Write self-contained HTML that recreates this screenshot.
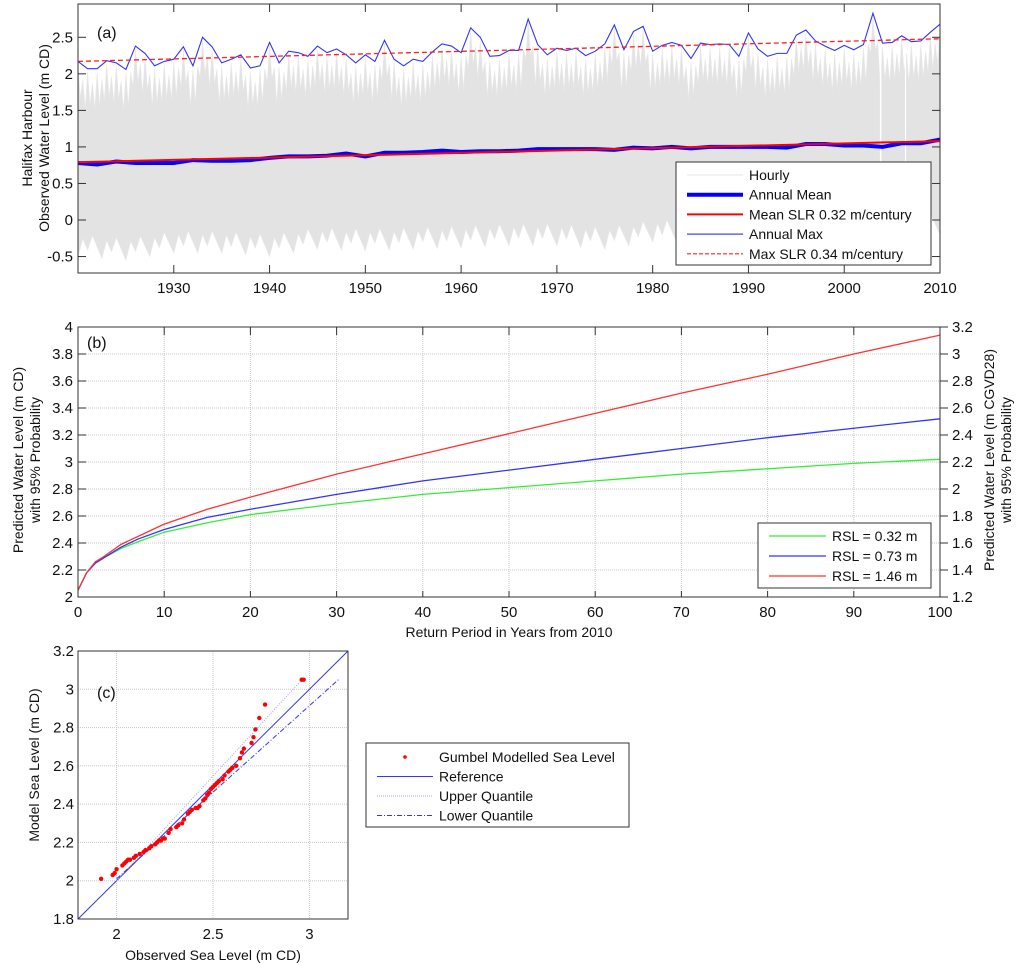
<!DOCTYPE html>
<html><head><meta charset="utf-8"><style>
html,body{margin:0;padding:0;background:#fff;}
svg{display:block;font-family:"Liberation Sans",Arial,sans-serif;}
</style></head><body>
<svg id="fig" width="1024" height="965" viewBox="0 0 1024 965" xmlns="http://www.w3.org/2000/svg">
<g id="pa"></g>
<g id="pb"></g>
<g id="pc"></g>
</svg>
<script>
// ---------- Panel (a) data ----------
const yearsStart = 1920;
const annualMax = [2.17,2.07,2.07,2.18,2.15,2.06,2.38,2.28,2.11,2.17,2.20,2.37,2.11,2.50,2.37,2.15,2.20,2.26,2.08,2.11,2.43,2.15,2.31,2.29,2.24,2.38,2.29,2.34,2.26,2.15,2.26,2.17,2.46,2.20,2.11,2.20,2.17,2.30,2.41,2.38,2.29,2.63,2.50,2.24,2.25,2.32,2.32,2.75,2.40,2.26,2.35,2.32,2.35,2.25,2.31,2.41,2.67,2.33,2.58,2.65,2.31,2.39,2.43,2.39,2.21,2.42,2.40,2.41,2.40,2.24,2.56,2.34,2.24,2.28,2.28,2.53,2.60,2.45,2.38,2.32,2.39,2.33,2.40,2.83,2.42,2.43,2.52,2.44,2.45,2.57,2.68];
const meanYears = [1920,1922,1924,1926,1928,1930,1932,1934,1936,1938,1940,1942,1944,1946,1948,1950,1952,1954,1956,1958,1960,1962,1964,1966,1968,1970,1972,1974,1976,1978,1980,1982,1984,1986,1988,1990,1992,1994,1996,1998,2000,2002,2004,2006,2008,2010];
const annualMean = [0.78,0.76,0.80,0.78,0.78,0.78,0.82,0.81,0.81,0.82,0.85,0.87,0.87,0.88,0.91,0.87,0.92,0.92,0.93,0.95,0.93,0.94,0.94,0.95,0.97,0.97,0.97,0.97,0.96,0.99,0.98,1.00,0.98,1.00,1.00,1.00,1.00,0.99,1.04,1.04,1.02,1.02,1.00,1.05,1.05,1.10];
const hourlyLowYears = [1920,1925,1930,1935,1940,1945,1950,1955,1960,1965,1970,1975,1980,1985,1990,1995,2000,2005,2010];
const hourlyLow = [-0.50,-0.55,-0.45,-0.45,-0.50,-0.40,-0.42,-0.40,-0.38,-0.35,-0.35,-0.40,-0.30,-0.30,-0.30,-0.28,-0.25,-0.25,-0.20];
const meanTrend = [0.79,1.08];
const maxTrend = [2.17,2.48];
const aYTicks = [-0.5,0,0.5,1,1.5,2,2.5];
const aXTicks = [1930,1940,1950,1960,1970,1980,1990,2000,2010];

// ---------- Panel (b) data ----------
const returnYears = [0,1,2,3,5,7,10,15,20,30,40,50,60,70,80,90,100];
const rsl032 = [2.05,2.18,2.25,2.29,2.36,2.41,2.48,2.55,2.61,2.69,2.76,2.81,2.86,2.91,2.95,2.99,3.02];
const rsl073 = [2.05,2.18,2.25,2.29,2.37,2.43,2.50,2.59,2.65,2.76,2.86,2.94,3.02,3.10,3.18,3.25,3.32];
const rsl146 = [2.05,2.18,2.26,2.30,2.39,2.45,2.54,2.65,2.74,2.91,3.06,3.21,3.36,3.51,3.65,3.80,3.94];
const bYTicks = [2,2.2,2.4,2.6,2.8,3,3.2,3.4,3.6,3.8,4];
const bYTicksRight = [1.2,1.4,1.6,1.8,2,2.2,2.4,2.6,2.8,3,3.2];
const bXTicks = [0,10,20,30,40,50,60,70,80,90,100];

// ---------- Panel (c) data ----------
const obsLevel = [1.92,1.98,1.99,2.00,2.03,2.04,2.05,2.06,2.07,2.09,2.10,2.12,2.14,2.15,2.17,2.18,2.20,2.21,2.22,2.23,2.24,2.25,2.27,2.28,2.31,2.32,2.34,2.35,2.37,2.38,2.39,2.41,2.42,2.43,2.45,2.46,2.47,2.48,2.49,2.50,2.51,2.52,2.53,2.55,2.56,2.58,2.59,2.60,2.62,2.64,2.65,2.66,2.70,2.71,2.72,2.74,2.77,2.96,2.97];
const modelLevel = [2.01,2.03,2.04,2.06,2.08,2.09,2.10,2.11,2.11,2.12,2.13,2.14,2.15,2.16,2.17,2.18,2.19,2.20,2.21,2.21,2.22,2.22,2.25,2.27,2.28,2.29,2.30,2.32,2.35,2.36,2.37,2.38,2.38,2.39,2.42,2.43,2.45,2.46,2.48,2.49,2.50,2.51,2.52,2.53,2.55,2.57,2.58,2.59,2.60,2.64,2.67,2.69,2.72,2.75,2.79,2.85,2.92,3.05,3.05];
const upperQ = [[2.0,2.0],[2.97,3.06]];
const lowerQ = [[2.0,2.01],[3.15,3.05]];
const cXTicks = [2,2.5,3];
const cYTicks = [1.8,2,2.2,2.4,2.6,2.8,3,3.2];

const NS = "http://www.w3.org/2000/svg";
function mk(parent, tag, attrs, text){
  const e = document.createElementNS(NS, tag);
  for (const k in attrs) e.setAttribute(k, attrs[k]);
  if (text !== undefined) e.textContent = text;
  parent.appendChild(e);
  return e;
}
function lin(d0,d1,r0,r1){ return v => r0 + (v-d0)*(r1-r0)/(d1-d0); }
function pathFrom(xs, ys, fx, fy){ return xs.map((x,i)=>(i?'L':'M')+fx(x).toFixed(2)+','+fy(ys[i]).toFixed(2)).join(''); }
function interp(xs, ys, x){
  for (let i=0;i<xs.length-1;i++) if (x>=xs[i] && x<=xs[i+1]) return ys[i]+(ys[i+1]-ys[i])*(x-xs[i])/(xs[i+1]-xs[i]);
  return ys[ys.length-1];
}

// ================= Panel A =================
(function(){
  const g = document.getElementById('pa');
  const L=78,R=940,T=4,B=273;
  const x = lin(1920,2010,L,R), y = lin(0,2.5,220,37.3);
  const yrs = annualMax.map((_,i)=>yearsStart+i);
  let top = [];
  for (let i=0;i<yrs.length;i++){
    top.push([x(yrs[i]), y(annualMax[i]-0.05)]);
    if (i<yrs.length-1){
      top.push([x(yrs[i]+0.25), y(annualMax[i]-0.5)]);
      top.push([x(yrs[i]+0.5), y((annualMax[i]+annualMax[i+1])/2-0.2)]);
      top.push([x(yrs[i]+0.75), y(annualMax[i+1]-0.55)]);
    }
  }
  let bot = [];
  for (let v=2010; v>=1920; v-=0.5){
    const base = interp(hourlyLowYears, hourlyLow, v);
    const k = Math.round((v-1920)*2)%5;
    const off = [0,0.25,0.1,0.3,0.15][k];
    bot.push([x(v), y(base + off)]);
  }
  const pts = top.concat(bot).map(p=>p[0].toFixed(1)+','+p[1].toFixed(1)).join(' ');
  const hourly = mk(g,'polygon',{points:pts, fill:'#e3e3e3', stroke:'#e8e8e8','stroke-width':0.6});
  
  
  mk(g,'line',{x1:x(2003.8),x2:x(2003.8),y1:y(2.3),y2:y(-0.2),stroke:'#fff','stroke-width':1.5});
  mk(g,'line',{x1:x(2006.4),x2:x(2006.4),y1:y(2.3),y2:y(-0.2),stroke:'#fff','stroke-width':1.2});
  const mp = mk(g,'path',{d:pathFrom(meanYears,annualMean,x,y),fill:'none',stroke:'#0000ff','stroke-width':4});
  
  
  const mt = mk(g,'line',{x1:x(1920),y1:y(meanTrend[0]),x2:x(2010),y2:y(meanTrend[1]),stroke:'#ff0000','stroke-width':2});
  
  
  const ap = mk(g,'path',{d:pathFrom(yrs,annualMax,x,y),fill:'none',stroke:'#3333ff','stroke-width':1.1});
  
  
  const xt = mk(g,'line',{x1:x(1920),y1:y(maxTrend[0]),x2:x(2010),y2:y(maxTrend[1]),stroke:'#ff2020','stroke-width':1.3,'stroke-dasharray':'5,3'});
  
  
  mk(g,'rect',{x:L,y:T,width:R-L,height:B-T,fill:'none',stroke:'#333','stroke-width':1});
  aYTicks.forEach(v=>{
    mk(g,'line',{x1:L,x2:L+8,y1:y(v),y2:y(v),stroke:'#333'});
    mk(g,'line',{x1:R,x2:R-8,y1:y(v),y2:y(v),stroke:'#333'});
    const t = mk(g,'text',{x:L-5,y:y(v)+5,'text-anchor':'end','font-size':15,fill:'#111'},String(v));
    
    
  });
  aXTicks.forEach(v=>{
    mk(g,'line',{x1:x(v),x2:x(v),y1:B,y2:B-8,stroke:'#333'});
    mk(g,'line',{x1:x(v),x2:x(v),y1:T,y2:T+8,stroke:'#333'});
    const t = mk(g,'text',{x:x(v),y:293,'text-anchor':'middle','font-size':15,fill:'#111'},String(v));
    
    
  });
  const pl = mk(g,'text',{x:97,y:38,'font-size':16,fill:'#111'},'(a)');
  
  
  const yl = mk(g,'text',{transform:'translate(40,138) rotate(-90)','text-anchor':'middle','font-size':14,fill:'#111'});
  
  
  mk(yl,'tspan',{x:0,dy:-8},'Halifax Harbour');
  mk(yl,'tspan',{x:0,dy:17},'Observed Water Level (m CD)');
  const lg = mk(g,'g',{});
  
  
  mk(lg,'rect',{x:676,y:162,width:255,height:103,fill:'#fff',stroke:'#333'});
  const items = [['Hourly','#e6e6e6',1,''],['Annual Mean','#0000ff',4,''],['Mean SLR 0.32 m/century','#ff0000',2,''],['Annual Max','#4444ff',1.2,''],['Max SLR 0.34 m/century','#ff2020',1.2,'4,2']];
  items.forEach((it,i)=>{
    const yy = 175+i*19.7;
    const e = mk(lg,'g',{});
    
    
    mk(e,'line',{x1:687,x2:743,y1:yy,y2:yy,stroke:it[1],'stroke-width':it[2],'stroke-dasharray':it[3]||'none'});
    mk(e,'text',{x:749,y:yy+5,'font-size':14,fill:'#111'},it[0]);
  });
})();

// ================= Panel B =================
(function(){
  const g = document.getElementById('pb');
  const L=78,R=940,T=327,B=597;
  const x = lin(0,100,L,R), y = lin(2,4,B,T);
  bXTicks.forEach(v=>{ if(v>0&&v<100) mk(g,'line',{x1:x(v),x2:x(v),y1:T,y2:B,stroke:'#c8c8c8','stroke-dasharray':'1,1'}); });
  bYTicks.forEach(v=>{ if(v>2&&v<4) mk(g,'line',{x1:L,x2:R,y1:y(v),y2:y(v),stroke:'#c8c8c8','stroke-dasharray':'1,1'}); });
  const series = [[rsl032,'#33ee33','rsl-032-line'],[rsl073,'#3333ff','rsl-073-line'],[rsl146,'#ff3333','rsl-146-line']];
  series.forEach(s=>{
    const p = mk(g,'path',{d:pathFrom(returnYears,s[0],x,y),fill:'none',stroke:s[1],'stroke-width':1.3});
    
    
  });
  mk(g,'rect',{x:L,y:T,width:R-L,height:B-T,fill:'none',stroke:'#333'});
  bYTicks.forEach(v=>{
    mk(g,'line',{x1:L,x2:L+8,y1:y(v),y2:y(v),stroke:'#333'});
    const t = mk(g,'text',{x:L-5,y:y(v)+5,'text-anchor':'end','font-size':15,fill:'#111'},String(v));
    
    
  });
  const yr = lin(1.2,3.2,B,T);
  bYTicksRight.forEach(v=>{
    mk(g,'line',{x1:R,x2:R+8,y1:yr(v),y2:yr(v),stroke:'#333'});
    const t = mk(g,'text',{x:R+12,y:yr(v)+5,'text-anchor':'start','font-size':15,fill:'#111'},String(v));
    
    
  });
  bXTicks.forEach(v=>{
    mk(g,'line',{x1:x(v),x2:x(v),y1:T,y2:T+8,stroke:'#333'});
    mk(g,'line',{x1:x(v),x2:x(v),y1:B,y2:B-6,stroke:'#333'});
    const t = mk(g,'text',{x:x(v),y:617,'text-anchor':'middle','font-size':15,fill:'#111'},String(v));
    
    
  });
  const pl = mk(g,'text',{x:87,y:348,'font-size':16,fill:'#111'},'(b)');
  
  
  const xl = mk(g,'text',{x:509,y:637,'text-anchor':'middle','font-size':14,fill:'#111'},'Return Period in Years from 2010');
  
  
  const yl = mk(g,'text',{transform:'translate(23,460) rotate(-90)','text-anchor':'middle','font-size':14,fill:'#111'});
  
  
  mk(yl,'tspan',{x:0,dy:0},'Predicted Water Level (m CD)');
  mk(yl,'tspan',{x:0,dy:17},'with 95% Probability');
  const yl2 = mk(g,'text',{transform:'translate(994,460) rotate(-90)','text-anchor':'middle','font-size':14,fill:'#111'});
  
  
  mk(yl2,'tspan',{x:0,dy:0},'Predicted Water Level (m CGVD28)');
  mk(yl2,'tspan',{x:0,dy:17},'with 95% Probability');
  const lg = mk(g,'g',{});
  
  
  mk(lg,'rect',{x:758,y:523,width:173,height:65,fill:'#fff',stroke:'#333'});
  [['RSL = 0.32 m','#33ee33'],['RSL = 0.73 m','#3333ff'],['RSL = 1.46 m','#ff3333']].forEach((it,i)=>{
    const yy = 536+i*20;
    const e = mk(lg,'g',{});
    
    
    mk(e,'line',{x1:769,x2:826,y1:yy,y2:yy,stroke:it[1],'stroke-width':1.3});
    mk(e,'text',{x:832,y:yy+5,'font-size':14,fill:'#111'},it[0]);
  });
})();

// ================= Panel C =================
(function(){
  const g = document.getElementById('pc');
  const L=78,R=348,T=651,B=919;
  const x = lin(1.8,3.2,L,R), y = lin(1.8,3.2,B,T);
  cXTicks.forEach(v=>mk(g,'line',{x1:x(v),x2:x(v),y1:T,y2:B,stroke:'#c8c8c8','stroke-dasharray':'1,1'}));
  cYTicks.forEach(v=>{ if(v>1.8&&v<3.2) mk(g,'line',{x1:L,x2:R,y1:y(v),y2:y(v),stroke:'#c8c8c8','stroke-dasharray':'1,1'}); });
  const ref = mk(g,'line',{x1:x(1.8),y1:y(1.8),x2:x(3.2),y2:y(3.2),stroke:'#3333ff','stroke-width':1});
  
  
  const uq = mk(g,'line',{x1:x(upperQ[0][0]),y1:y(upperQ[0][1]),x2:x(upperQ[1][0]),y2:y(upperQ[1][1]),stroke:'#a0a0ff','stroke-width':1,'stroke-dasharray':'1,1.5'});
  
  
  const lq = mk(g,'line',{x1:x(lowerQ[0][0]),y1:y(lowerQ[0][1]),x2:x(lowerQ[1][0]),y2:y(lowerQ[1][1]),stroke:'#3333ff','stroke-width':1,'stroke-dasharray':'5,2,1,2'});
  
  
  obsLevel.forEach((v,i)=>{
    const c = mk(g,'circle',{cx:x(v),cy:y(modelLevel[i]),r:2.2,fill:'#ff0000'});
    
    
  });
  mk(g,'rect',{x:L,y:T,width:R-L,height:B-T,fill:'none',stroke:'#333'});
  cYTicks.forEach(v=>{
    const t = mk(g,'text',{x:L-4,y:y(v)+5,'text-anchor':'end','font-size':15,fill:'#111'},v.toFixed(1).replace(/\.0$/,''));
    
    
  });
  cXTicks.forEach(v=>{
    const t = mk(g,'text',{x:x(v),y:939,'text-anchor':'middle','font-size':15,fill:'#111'},String(v));
    
    
  });
  const pl = mk(g,'text',{x:97,y:698,'font-size':16,fill:'#111'},'(c)');
  
  
  const xl = mk(g,'text',{x:213,y:960,'text-anchor':'middle','font-size':14,fill:'#111'},'Observed Sea Level (m CD)');
  
  
  const yl = mk(g,'text',{transform:'translate(39,765) rotate(-90)','text-anchor':'middle','font-size':14,fill:'#111'},'Model Sea Level (m CD)');
  
  
  const lg = mk(g,'g',{});
  
  
  mk(lg,'rect',{x:366,y:743,width:263,height:84,fill:'#fff',stroke:'#333'});
  const it = ['Gumbel Modelled Sea Level','Reference','Upper Quantile','Lower Quantile'];
  it.forEach((s,i)=>{
    const yy = 757+i*19.5;
    const e = mk(lg,'g',{});
    
    
    if(i===0) mk(e,'circle',{cx:405,cy:yy,r:1.8,fill:'#ff0000'});
    if(i===1) mk(e,'line',{x1:377,x2:433,y1:yy,y2:yy,stroke:'#3333ff'});
    if(i===2) mk(e,'line',{x1:377,x2:433,y1:yy,y2:yy,stroke:'#a0a0ff','stroke-dasharray':'1,1'});
    if(i===3) mk(e,'line',{x1:377,x2:433,y1:yy,y2:yy,stroke:'#3333ff','stroke-dasharray':'5,2,1,2'});
    mk(e,'text',{x:439,y:yy+5,'font-size':14,fill:'#111'},s);
  });
})();
</script>
</body></html>
